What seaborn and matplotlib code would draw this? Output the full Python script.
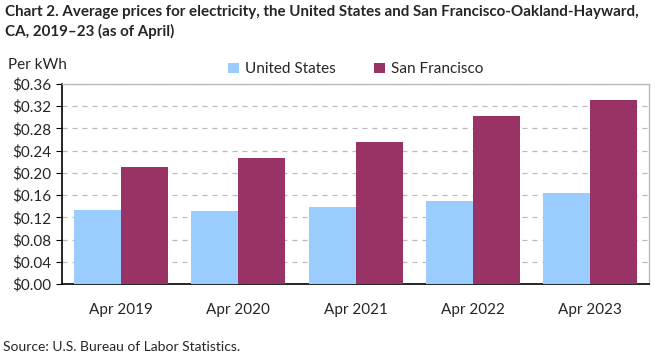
import pandas as pd
import matplotlib.pyplot as plt
import seaborn as sns

years = ["Apr 2019", "Apr 2020", "Apr 2021", "Apr 2022", "Apr 2023"]
us_prices = [0.133, 0.131, 0.139, 0.149, 0.164]
sf_prices = [0.211, 0.227, 0.256, 0.302, 0.331]
y_ticks = [0.00, 0.04, 0.08, 0.12, 0.16, 0.20, 0.24, 0.28, 0.32, 0.36]

df = pd.DataFrame({
    "Month": years * 2,
    "Price": us_prices + sf_prices,
    "Area": ["United States"] * 5 + ["San Francisco"] * 5,
})

sns.set_style("white")
plt.rcParams["font.family"] = ["Lato", "DejaVu Sans"]

fig = plt.figure(figsize=(6.61, 3.6), dpi=100)
ax = fig.add_axes([0.094, 0.211, 0.888, 0.556])

sns.barplot(data=df, x="Month", y="Price", hue="Area",
            palette=["#99CCFF", "#993366"], width=0.8, saturation=1,
            linewidth=0, ax=ax, zorder=3)

ax.set_ylim(0, 0.36)
ax.set_yticks(y_ticks)
ax.set_yticklabels([f"${v:.2f}" for v in y_ticks], fontsize=11)
ax.tick_params(axis="x", labelsize=11, length=0, pad=14)
ax.tick_params(axis="y", length=4, direction="out", color="black", left=True)
ax.set_xlabel("")
ax.set_ylabel("")
ax.yaxis.grid(True, linestyle=(0, (4, 4)), color="#bbbbbb", linewidth=0.9, zorder=0)

for side in ["left", "bottom"]:
    ax.spines[side].set_color("black")
    ax.spines[side].set_linewidth(1.2)
for side in ["top", "right"]:
    ax.spines[side].set_color("#bbbbbb")
    ax.spines[side].set_linewidth(1)

ax.legend(loc="lower center", bbox_to_anchor=(0.5, 1.0), ncol=2, frameon=False,
          fontsize=11, handlelength=0.7, handleheight=0.7, columnspacing=2.5,
          handletextpad=0.4, borderaxespad=0.1)

fig.text(0.008, 0.985, "Chart 2. Average prices for electricity, the United States and San Francisco-Oakland-Hayward,\nCA, 2019\u201323 (as of April)",
         fontsize=10.9, fontweight="bold", va="top", ha="left", linespacing=1.4)
fig.text(0.012, 0.80, "Per kWh", fontsize=11, va="bottom", ha="left")
fig.text(0.005, 0.02, "Source: U.S. Bureau of Labor Statistics.", fontsize=10, va="bottom", ha="left")

fig.savefig("out.png", dpi=100)
